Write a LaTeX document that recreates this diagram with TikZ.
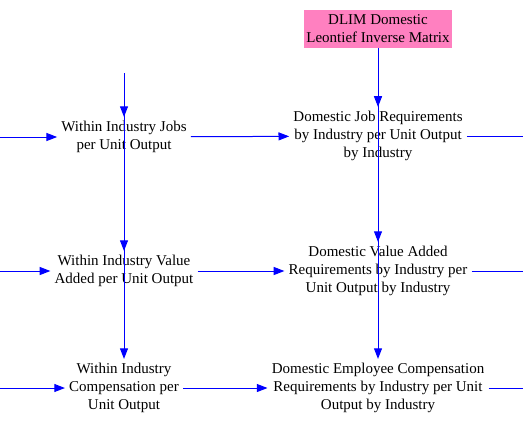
\documentclass[tikz,border=0pt]{standalone}
\usepackage{fontspec}
\setmainfont{Liberation Serif}
\usetikzlibrary{arrows.meta}
\definecolor{vblue}{RGB}{0,0,255}
\definecolor{vpink}{RGB}{255,128,192}
\begin{document}
\begin{tikzpicture}[x=0.75pt,y=-0.75pt,
  lbl/.style={align=center,font=\fontsize{11.25pt}{13.5pt}\selectfont,inner sep=3pt},
  link/.style={draw=vblue,line width=0.75pt,-{Triangle[length=8pt,width=6pt]}},
  plain/.style={draw=vblue,line width=0.75pt}]
\useasboundingbox (0,0) rectangle (523,436);
\node[lbl,fill=vpink,minimum width=111pt,minimum height=28.5pt,inner sep=1pt] (dlim) at (378,29) {DLIM Domestic\\Leontief Inverse Matrix};
\node[lbl] (wjobs) at (124,137) {Within Industry Jobs\\per Unit Output};
\node[lbl] (djob) at (378,136) {Domestic Job Requirements\\by Industry per Unit Output\\by Industry};
\node[lbl] (wva) at (124,271) {Within Industry Value\\Added per Unit Output};
\node[lbl] (dva) at (378,271) {Domestic Value Added\\Requirements by Industry per\\Unit Output by Industry};
\node[lbl] (wcomp) at (124,388) {Within Industry\\Compensation per\\Unit Output};
\node[lbl] (dec) at (378,388) {Domestic Employee Compensation\\Requirements by Industry per Unit\\Output by Industry};
\coordinate (top) at (124,73);
\coordinate (l1) at (0,137);
\coordinate (l2) at (0,271);
\coordinate (l3) at (0,388);
\coordinate (r1) at (523,136);
\coordinate (r2) at (523,271);
\coordinate (r3) at (523,388);
% left column verticals
\draw[link] (top) -- (wjobs);
\draw[link] (top) -- (wva);
\draw[link] (top) -- (wcomp);
% DLIM verticals
\draw[link] (dlim) -- (djob);
\draw[link] (dlim) -- (dva);
\draw[link] (dlim) -- (dec);
% rows
\draw[link] (l1) -- (wjobs);
\draw[link] (wjobs) -- (djob);
\draw[plain] (djob) -- (r1);
\draw[link] (l2) -- (wva);
\draw[link] (wva) -- (dva);
\draw[plain] (dva) -- (r2);
\draw[link] (l3) -- (wcomp);
\draw[link] (wcomp) -- (dec);
\draw[plain] (dec) -- (r3);
\end{tikzpicture}
\end{document}
